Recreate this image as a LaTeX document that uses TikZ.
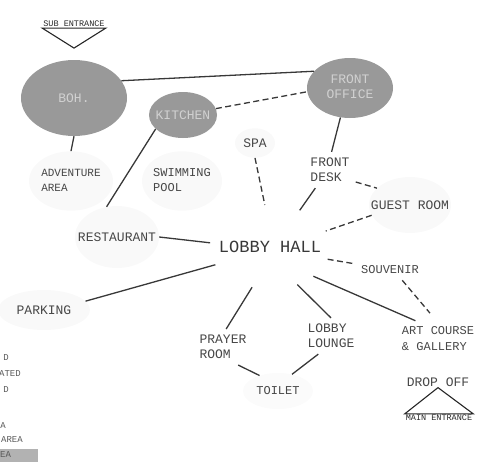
\documentclass[tikz,border=0pt]{standalone}
\usepackage{fontspec}
\setmainfont{Liberation Mono}
\usetikzlibrary{shapes.geometric,positioning,calc}
\newcommand{\zw}[1]{\makebox[0pt]{#1}}
\newcommand{\two}[2]{\zw{\begin{tabular}{@{}l@{}}#1\\#2\end{tabular}}}
\tikzset{
  lbl/.style={font=\fontsize{13}{15}\selectfont,text=black!72,align=left,inner sep=6pt},
  darkoval/.style={lbl,ellipse,fill=black!40,text=white!82!black},
  paleoval/.style={lbl,ellipse,fill=black!2.5},
  hubnode/.style={lbl,ellipse,font=\fontsize{17}{19}\selectfont,text=black!78},
  smalllbl/.style={font=\fontsize{8.5}{10}\selectfont,text=black!85,inner sep=1pt},
  legend/.style={font=\fontsize{9}{10}\selectfont,text=black!65,inner sep=0pt,anchor=east},
  ln/.style={line width=1.3pt,draw=black!78},
  dln/.style={ln,dash pattern=on 6pt off 3.5pt},
  tri/.style={line width=1.1pt,draw=black!85}
}
\begin{document}
\begin{tikzpicture}[x=1pt,y=-1pt]
  \useasboundingbox (0,0) rectangle (485,469);

  % coloured areas
  \node[darkoval, minimum width=106, minimum height=76] (boh) at (74,98) {\zw{BOH.}};
  \node[darkoval, minimum width=68, minimum height=46] (kitchen) at (183,115) {\zw{KITCHEN}};
  \node[darkoval, minimum width=86, minimum height=60] (office) at (350,88) {\zw{\begin{tabular}{@{}c@{}}FRONT\\OFFICE\end{tabular}}};

  % open areas
  \node[paleoval, minimum width=40, minimum height=28] (spa) at (255,143) {\zw{SPA}};
  \node[paleoval, minimum width=84, minimum height=42, font=\fontsize{11}{15}\selectfont] (adventure) at (71,181) {\two{ADVENTURE}{AREA}};
  \node[paleoval, minimum width=80, minimum height=54, font=\fontsize{12}{15}\selectfont] (pool) at (182,181) {\two{SWIMMING}{POOL}};
  \node[paleoval, minimum width=84, minimum height=62] (restaurant) at (117,237) {\zw{RESTAURANT}};
  \node[paleoval, minimum width=82, minimum height=56] (guest) at (410,205) {\zw{GUEST ROOM}};
  \node[paleoval, minimum width=92, minimum height=40] (parking) at (44,310) {\zw{PARKING}};
  \node[paleoval, minimum width=70, minimum height=36, fill=black!1.5, font=\fontsize{12}{15}\selectfont] (toilet) at (278,391) {\zw{TOILET}};
  \node[hubnode, minimum width=120, minimum height=84] (lobby) at (270,247) {\zw{LOBBY HALL}};

  % plain labels
  \node[lbl] (desk) at (330,170) {FRONT\\DESK};
  \node[lbl, font=\fontsize{12}{15}\selectfont] (souvenir) at (390,270) {SOUVENIR};
  \node[lbl, font=\fontsize{12}{16}\selectfont] (art) at (438,339) {ART COURSE\\\& GALLERY};
  \node[lbl] (lounge) at (331,336) {LOBBY\\LOUNGE};
  \node[lbl] (prayer) at (223,347) {PRAYER\\ROOM};
  \node[lbl, inner sep=1pt] (dropoff) at (438,382) {DROP OFF};
  \node[smalllbl] (mainent) at (439,418) {MAIN ENTRANCE};
  \node[smalllbl] (subent) at (74,24) {SUB ENTRANCE};

  % entrances
  \draw[tri] (subent.south west) -- (subent.south east) -- ($(subent.south)+(0,20)$) -- cycle;
  \draw[tri] (mainent.north west) -- (mainent.north east) -- (dropoff.south) -- cycle;

  % links
  \draw[ln] (boh.20) -- (office.155);
  \draw[dln] (kitchen.11) -- (office.185);
  \draw[ln] (office.252) -- (desk.85);
  \draw[ln] (boh.south) -- (adventure.north);
  \draw[ln] (kitchen.207) -- (restaurant.109);
  \draw[ln] (restaurant.east) -- (lobby.176);
  \draw[dln] (spa.south) -- (lobby.97);
  \draw[ln] (desk.231) -- (lobby.51);
  \draw[dln] (desk.-25) -- (guest.153);
  \draw[dln] (guest.195) -- (lobby.16);
  \draw[dln] (lobby.-12) -- (souvenir.170);
  \draw[dln, shorten >=10pt] (souvenir.-40) -- (art.95);
  \draw[ln] (lobby.-34) -- (art.141);
  \draw[ln] (lobby.-54) -- (lounge.north);
  \draw[ln] (lobby.-114) -- (prayer.80);
  \draw[ln] (lobby.198) -- (parking.12);
  \draw[ln] (prayer.-50) -- (toilet.140);
  \draw[ln] (lounge.235) -- (toilet.50);

  % legend (cut off at the edge)
  \node[legend] (lg1) at (9,358) {D};
  \node[legend] (lg2) at (21,374) {ATED};
  \node[legend] (lg3) at (9,390) {D};
  \node[legend] (lg4) at (6,426) {A};
  \node[legend] (lg5) at (23,440) {AREA};
  \node[legend, anchor=west, fill=black!30, minimum width=38, minimum height=13, text width=38] (lg6) at (0,455) {EA};
\end{tikzpicture}
\end{document}
